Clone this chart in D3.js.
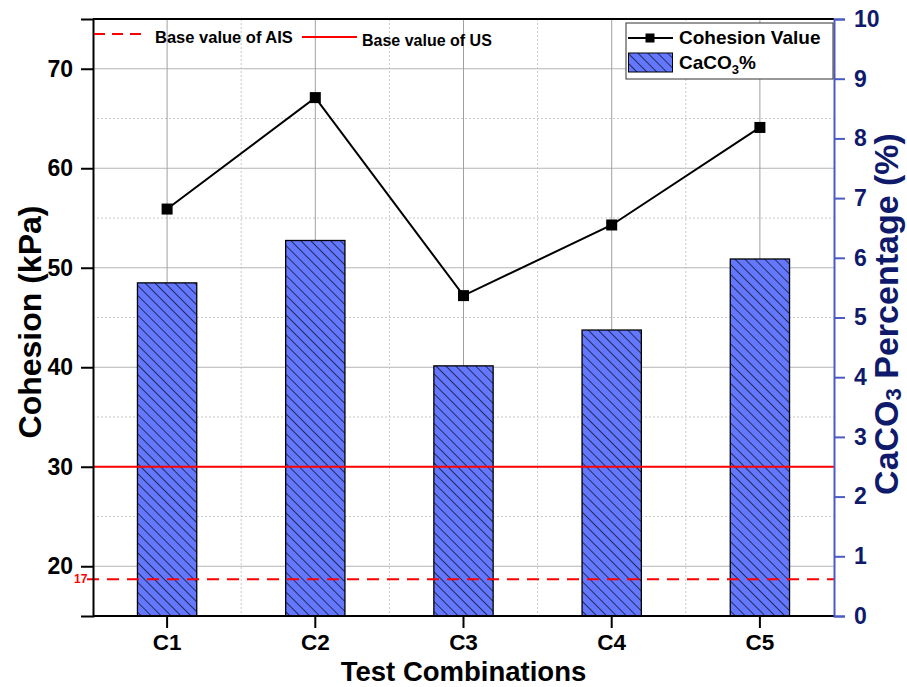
<!DOCTYPE html>
<html><head><meta charset="utf-8">
<script src="https://cdn.jsdelivr.net/npm/d3@7"></script>
<style>body{margin:0;background:#fff;} text{font-family:"Liberation Sans",Arial,sans-serif;font-weight:bold;}</style>
</head><body>
<svg id="c" width="907" height="687"></svg>
<script>
const categories = ["C1","C2","C3","C4","C5"];
const cohesion = [55.9, 67.1, 47.2, 54.3, 64.1];
const caco3 = [5.58, 6.29, 4.19, 4.79, 5.98];
const leftTicks = [20,30,40,50,60,70];
const leftMinor = [25,35,45,55,65];
const rightTicks = [0,1,2,3,4,5,6,7,8,9,10];
const baseUS = 30;
const baseAIS = 18.7;
const baseAISLabel = "17";

const svg = d3.select("#c");
const m = {l:93, r:834, t:19, b:616};
const navy = "#0f1a6b", axisBlue = "#4a5bc4", barFill = "#6478ff";

const x = d3.scaleBand().domain(categories).range([m.l, m.r]).padding(0);
const yL = d3.scaleLinear().domain([15, 75]).range([m.b, m.t]);
const yR = d3.scaleLinear().domain([0, 10]).range([m.b, m.t]);

const defs = svg.append("defs");
const pat = defs.append("pattern").attr("id","hatch").attr("patternUnits","userSpaceOnUse")
  .attr("width",7).attr("height",7).attr("patternTransform","rotate(-45)");
pat.append("rect").attr("width",7).attr("height",7).attr("fill",barFill);
pat.append("line").attr("x1",0).attr("y1",0).attr("x2",0).attr("y2",7).attr("stroke","#000").attr("stroke-width",1.3);

// grid
const g = svg.append("g");
leftMinor.forEach(v => g.append("line").attr("x1",m.l).attr("x2",m.r).attr("y1",yL(v)).attr("y2",yL(v))
  .attr("stroke","#c8c8c8").attr("stroke-dasharray","2,2").attr("stroke-width",1));
leftTicks.forEach(v => g.append("line").attr("x1",m.l).attr("x2",m.r).attr("y1",yL(v)).attr("y2",yL(v))
  .attr("stroke","#b4b4b4").attr("stroke-width",1));
categories.forEach((c,i) => {
  g.append("line").attr("x1",x(c)+x.bandwidth()/2).attr("x2",x(c)+x.bandwidth()/2).attr("y1",m.t).attr("y2",m.b)
    .attr("stroke","#a0a0a0").attr("stroke-width",1);
  if (i>0) g.append("line").attr("x1",x(c)).attr("x2",x(c)).attr("y1",m.t).attr("y2",m.b)
    .attr("stroke","#c8c8c8").attr("stroke-dasharray","2,2").attr("stroke-width",1);
});

// bars
const bw = x.bandwidth()*0.4;
svg.append("g").selectAll("rect").data(categories).join("rect")
  .attr("x", (c)=>x(c)+x.bandwidth()/2-bw/2).attr("width",bw)
  .attr("y",(c,i)=>yR(caco3[i])).attr("height",(c,i)=>m.b-yR(caco3[i]))
  .attr("fill","url(#hatch)").attr("stroke","#000").attr("stroke-width",1.3);

// reference lines
svg.append("line").attr("x1",m.l).attr("x2",m.r).attr("y1",yL(baseUS)).attr("y2",yL(baseUS))
  .attr("stroke","#ff0000").attr("stroke-width",2);
svg.append("line").attr("x1",87).attr("x2",m.r).attr("y1",yL(baseAIS)).attr("y2",yL(baseAIS))
  .attr("stroke","#ff0000").attr("stroke-width",2).attr("stroke-dasharray","12,8");
svg.append("text").attr("x",74).attr("y",yL(baseAIS)+4).attr("text-anchor","start")
  .attr("fill","#ff0000").attr("font-size",12).text(baseAISLabel);

// line + markers
const line = d3.line().x((d,i)=>x(categories[i])+x.bandwidth()/2).y(d=>yL(d));
svg.append("path").datum(cohesion).attr("d",line).attr("fill","none").attr("stroke","#000").attr("stroke-width",2);
svg.append("g").selectAll("rect").data(cohesion).join("rect")
  .attr("x",(d,i)=>x(categories[i])+x.bandwidth()/2-5.5).attr("y",d=>yL(d)-5.5)
  .attr("width",11).attr("height",11).attr("fill","#000");

// frame
svg.append("line").attr("x1",m.l).attr("x2",m.r).attr("y1",m.t).attr("y2",m.t).attr("stroke","#000").attr("stroke-width",2);
svg.append("line").attr("x1",m.l).attr("x2",m.r).attr("y1",m.b).attr("y2",m.b).attr("stroke","#000").attr("stroke-width",2);

// axes
const axL = svg.append("g").attr("transform",`translate(${m.l},0)`)
  .call(d3.axisLeft(yL).tickValues(leftTicks).tickSize(12).tickPadding(8).tickFormat(d3.format("d")));
axL.select(".domain").attr("stroke","#000").attr("stroke-width",2);
axL.selectAll(".tick line").attr("stroke","#000").attr("stroke-width",2);
axL.selectAll(".tick text").attr("font-size",23).attr("fill","#000").style("font-family","Liberation Sans");

const axR = svg.append("g").attr("transform",`translate(${m.r},0)`)
  .call(d3.axisRight(yR).tickValues(rightTicks).tickSize(11).tickPadding(9).tickFormat(d3.format("d")));
axR.select(".domain").attr("stroke",axisBlue).attr("stroke-width",2);
axR.selectAll(".tick line").attr("stroke",axisBlue).attr("stroke-width",2);
axR.selectAll(".tick text").attr("font-size",23).attr("fill",navy).style("font-family","Liberation Sans");

const axB = svg.append("g").attr("transform",`translate(0,${m.b})`)
  .call(d3.axisBottom(x).tickSize(12).tickPadding(6));
axB.select(".domain").remove();
axB.selectAll(".tick line").attr("stroke","#000").attr("stroke-width",2);
axB.selectAll(".tick text").attr("font-size",22.5).attr("fill","#000").attr("dy","0.72em").style("font-family","Liberation Sans");

// axis titles
svg.append("text").attr("x",(m.l+m.r)/2).attr("y",681).attr("text-anchor","middle").attr("font-size",27.5).text("Test Combinations");
svg.append("text").attr("transform",`translate(41,322) rotate(-90)`).attr("text-anchor","middle").attr("font-size",32).text("Cohesion (kPa)");
const rt = svg.append("text").attr("transform",`translate(898,314) rotate(-90)`).attr("text-anchor","middle").attr("font-size",34).attr("fill",navy);
rt.append("tspan").text("CaCO");
rt.append("tspan").attr("font-size",22).attr("dy",3).text("3");
rt.append("tspan").attr("dy",-3).text(" Percentage (%)");

// annotation legend for base lines
svg.append("line").attr("x1",m.l+1).attr("x2",148).attr("y1",34).attr("y2",34).attr("stroke","#ff0000").attr("stroke-width",2).attr("stroke-dasharray","11,7");
svg.append("text").attr("x",155).attr("y",43).attr("font-size",16.5).text("Base value of AIS");
svg.append("line").attr("x1",302).attr("x2",357).attr("y1",37).attr("y2",37).attr("stroke","#ff0000").attr("stroke-width",2);
svg.append("text").attr("x",362).attr("y",46).attr("font-size",16).text("Base value of US");

// legend
const lg = svg.append("g");
lg.append("rect").attr("x",626).attr("y",23).attr("width",207).attr("height",56).attr("fill","#fff").attr("stroke","#333").attr("stroke-width",1);
lg.append("line").attr("x1",628).attr("x2",673).attr("y1",38).attr("y2",38).attr("stroke","#000").attr("stroke-width",2);
lg.append("rect").attr("x",645.5).attr("y",33.5).attr("width",9).attr("height",9).attr("fill","#000");
lg.append("text").attr("x",679).attr("y",44).attr("font-size",19).text("Cohesion Value");
lg.append("rect").attr("x",628.5).attr("y",53).attr("width",44).attr("height",19).attr("fill","url(#hatch)").attr("stroke","#000").attr("stroke-width",1);
const lt = lg.append("text").attr("x",679).attr("y",69).attr("font-size",19);
lt.append("tspan").text("CaCO");
lt.append("tspan").attr("font-size",13).attr("dy",5).text("3");
lt.append("tspan").attr("dy",-5).text("%");
</script>
</body></html>
